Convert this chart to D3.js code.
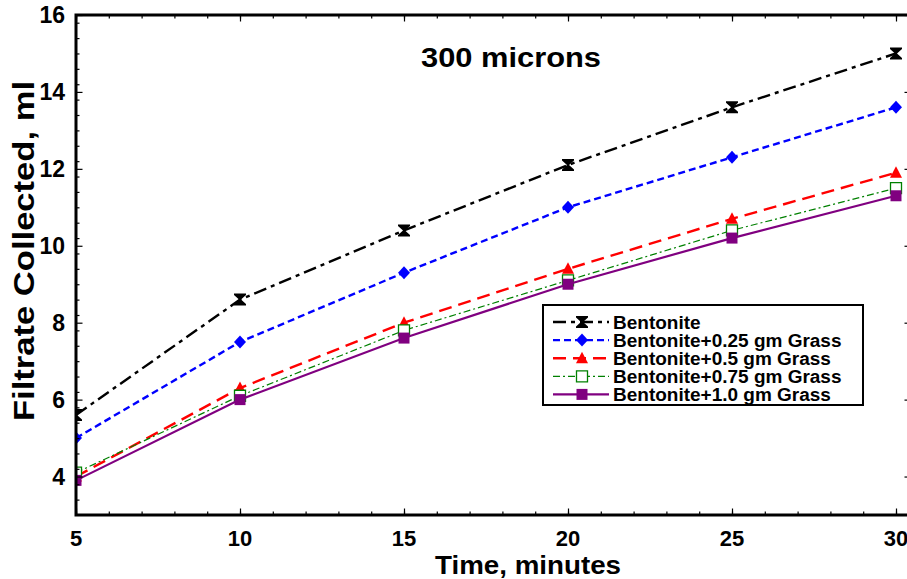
<!DOCTYPE html>
<html>
<head>
<meta charset="utf-8">
<script src="https://cdn.jsdelivr.net/npm/d3@7"></script>
<style>
  html, body { margin: 0; padding: 0; background: #fff; }
  svg { display: block; }
  text { font-family: "Liberation Sans", Arial, sans-serif; font-weight: bold; fill: #000; }
</style>
</head>
<body>
<svg id="chart" width="907" height="579"></svg>
<script>
// Filtrate volume vs. time, 300 micron screen
const minutes = [5, 10, 15, 20, 25, 30];
const bentonite = [5.6, 8.6, 10.4, 12.1, 13.6, 15.0];
const grass025 = [5.0, 7.5, 9.3, 11.0, 12.3, 13.6];
const grass05 = [4.0, 6.3, 8.0, 9.4, 10.7, 11.9];
const grass075 = [4.1, 6.1, 7.8, 9.1, 10.4, 11.5];
const grass10 = [3.9, 6.0, 7.6, 9.0, 10.2, 11.3];
const seriesNames = [
  "Bentonite",
  "Bentonite+0.25 gm Grass",
  "Bentonite+0.5 gm Grass",
  "Bentonite+0.75 gm Grass",
  "Bentonite+1.0 gm Grass"
];
const xTickValues = [5, 10, 15, 20, 25, 30];
const yTickValues = [4, 6, 8, 10, 12, 14, 16];
const chartTitle = "300 microns";
const xTitle = "Time, minutes";
const yTitle = "Filtrate Collected, ml";

const styles = [
  { color: "#000000", width: 2.4, dash: "13,5,4,5", marker: "hourglass" },
  { color: "#0000ff", width: 2.4, dash: "7,4", marker: "diamond" },
  { color: "#ff0000", width: 2.4, dash: "13,7", marker: "triangle" },
  { color: "#008000", width: 1.2, dash: "7,3,2,3", marker: "openSquare" },
  { color: "#800080", width: 2.2, dash: null, marker: "square" }
];
const seriesValues = [bentonite, grass025, grass05, grass075, grass10];

const svg = d3.select("#chart");
const plotLeft = 76, plotRight = 911, plotTop = 15, plotBottom = 515;

const x = d3.scaleLinear().domain([5, 30]).range([plotLeft, 896]);
const y = d3.scaleLinear().domain([3, 16]).range([plotBottom, plotTop]);

// clip region for the plotted data
svg.append("defs").append("clipPath").attr("id", "plotClip")
  .append("rect").attr("x", plotLeft).attr("y", plotTop)
  .attr("width", plotRight - plotLeft).attr("height", plotBottom - plotTop);

function markerPath(type) {
  switch (type) {
    case "hourglass":
      return "M-6,-6H6V-4.5L1,0L6,4.5V6H-6V4.5L-1,0L-6,-4.5Z";
    case "diamond":
      return "M0,-6.5L6,0L0,6.5L-6,0Z";
    case "triangle":
      return "M0,-6.5L6,5L-6,5Z";
    case "openSquare":
      return "M-5.5,-5.5H5.5V5.5H-5.5Z";
    case "square":
      return "M-5.5,-5.5H5.5V5.5H-5.5Z";
  }
}
function drawMarker(g, type, color) {
  const p = g.append("path").attr("d", markerPath(type));
  if (type === "openSquare") {
    p.attr("fill", "#fff").attr("stroke", color).attr("stroke-width", 1.3);
  } else {
    p.attr("fill", color).attr("stroke", "none");
  }
}

// series lines and markers
const plot = svg.append("g").attr("clip-path", "url(#plotClip)");
const line = d3.line().x((d, i) => x(minutes[i])).y(d => y(d));
seriesValues.forEach((vals, si) => {
  const st = styles[si];
  const g = plot.append("g");
  g.append("path").datum(vals).attr("d", line)
    .attr("fill", "none").attr("stroke", st.color)
    .attr("stroke-width", st.width)
    .attr("stroke-dasharray", st.dash);
  vals.forEach((v, i) => {
    const m = g.append("g").attr("transform", `translate(${x(minutes[i])},${y(v)})`);
    drawMarker(m, st.marker, st.color);
  });
});

// axes: inward major and minor ticks on all four sides
const xMinor = d3.range(5, 31, 1);
const yMinor = d3.range(3.4, 16, 0.4).map(v => +v.toFixed(1));
function styleAxis(g) {
  g.select(".domain").remove();
  g.selectAll(".tick line").attr("stroke", "#000").attr("stroke-width", 1.2);
}
function addAxis(axisFn, pos, values, size) {
  const isX = axisFn === d3.axisBottom || axisFn === d3.axisTop;
  svg.append("g")
    .attr("transform", isX ? `translate(0,${pos})` : `translate(${pos},0)`)
    .call(axisFn(isX ? x : y).tickValues(values).tickSize(size).tickFormat(""))
    .call(styleAxis);
}
addAxis(d3.axisBottom, plotBottom, xMinor, -3.5);
addAxis(d3.axisBottom, plotBottom, xTickValues, -6.5);
addAxis(d3.axisTop, plotTop, xMinor, -3.5);
addAxis(d3.axisTop, plotTop, xTickValues, -6.5);
addAxis(d3.axisLeft, plotLeft, yMinor, -3.5);
addAxis(d3.axisLeft, plotLeft, yTickValues, -6.5);
addAxis(d3.axisRight, plotRight, yMinor, -3.5);
addAxis(d3.axisRight, plotRight, yTickValues, -6.5);

// frame
svg.append("rect").attr("x", plotLeft).attr("y", plotTop)
  .attr("width", plotRight - plotLeft).attr("height", plotBottom - plotTop)
  .attr("fill", "none").attr("stroke", "#000").attr("stroke-width", 3);

// tick labels
svg.append("g").selectAll("text").data(xTickValues).join("text")
  .attr("x", d => x(d)).attr("y", 546)
  .attr("text-anchor", "middle").attr("font-size", 22)
  .text(d => d);
svg.append("g").selectAll("text").data(yTickValues).join("text")
  .attr("x", 65).attr("y", d => y(d) + 8)
  .attr("text-anchor", "end").attr("font-size", 23)
  .text(d => d);

// titles
svg.append("text").attr("x", 511).attr("y", 67)
  .attr("text-anchor", "middle").attr("font-size", 28)
  .attr("textLength", 180).attr("lengthAdjust", "spacingAndGlyphs")
  .text(chartTitle);
svg.append("text").attr("x", 528).attr("y", 574)
  .attr("text-anchor", "middle").attr("font-size", 25)
  .attr("textLength", 186).attr("lengthAdjust", "spacingAndGlyphs")
  .text(xTitle);
svg.append("text")
  .attr("transform", "translate(34,251) rotate(-90)")
  .attr("text-anchor", "middle").attr("font-size", 30)
  .attr("textLength", 340).attr("lengthAdjust", "spacingAndGlyphs")
  .text(yTitle);

// legend
const legend = svg.append("g");
legend.append("rect").attr("x", 543).attr("y", 305)
  .attr("width", 320).attr("height", 100)
  .attr("fill", "#fff").attr("stroke", "#000").attr("stroke-width", 2);
seriesNames.forEach((name, i) => {
  const st = styles[i];
  const cy = 322 + i * 18.1;
  legend.append("line").attr("x1", 553).attr("x2", 609)
    .attr("y1", cy).attr("y2", cy)
    .attr("stroke", st.color).attr("stroke-width", st.width)
    .attr("stroke-dasharray", st.dash);
  const m = legend.append("g").attr("transform", `translate(582,${cy})`);
  drawMarker(m, st.marker, st.color);
  const t = legend.append("text").attr("x", 613).attr("y", cy + 6.5)
    .attr("font-size", 18).text(name);
  // slightly wider lettering for the legend entries
  const natural = t.node().getComputedTextLength();
  t.attr("textLength", natural * 1.055).attr("lengthAdjust", "spacingAndGlyphs");
});
</script>
</body>
</html>
